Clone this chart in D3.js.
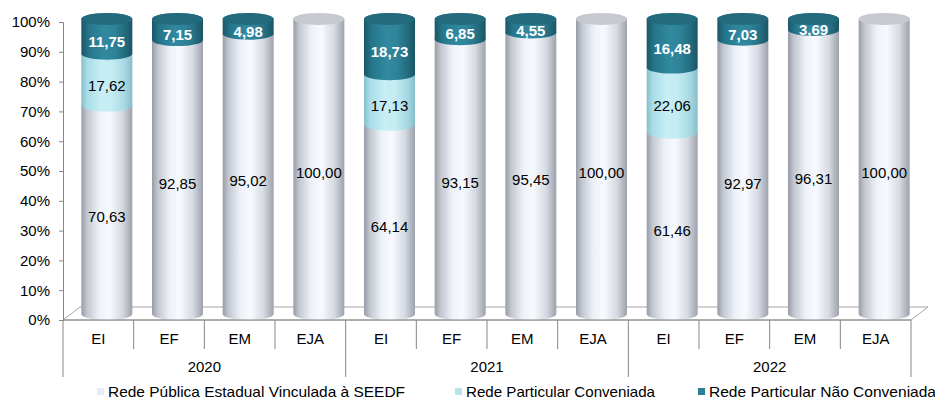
<!DOCTYPE html>
<html>
<head>
<meta charset="utf-8">
<script src="https://cdn.jsdelivr.net/npm/d3@7"></script>
<style>
  body { margin: 0; background: #fff; }
  text { font-family: "Liberation Sans", Arial, sans-serif; }
</style>
</head>
<body>
<div id="chart"></div>
<script>
var years = ["2020", "2021", "2022"];
var etapas = ["EI", "EF", "EM", "EJA"];
var publica = [70.63, 92.85, 95.02, 100.00, 64.14, 93.15, 95.45, 100.00, 61.46, 92.97, 96.31, 100.00];
var conveniada = [17.62, 0, 0, 0, 17.13, 0, 0, 0, 22.06, 0, 0, 0];
var naoConveniada = [11.75, 7.15, 4.98, 0, 18.73, 6.85, 4.55, 0, 16.48, 7.03, 3.69, 0];
var seriesNames = ["Rede Pública Estadual Vinculada à SEEDF", "Rede Particular Conveniada", "Rede Particular Não Conveniada"];
var yTicks = [0, 10, 20, 30, 40, 50, 60, 70, 80, 90, 100];

var width = 935, height = 401;
var keys = ["pub", "conv", "nconv"];

var rows = [];
years.forEach(function (yr, i) {
  etapas.forEach(function (et, j) {
    var k = i * 4 + j;
    rows.push({ id: k, year: yr, etapa: et, pub: publica[k], conv: conveniada[k], nconv: naoConveniada[k] });
  });
});

var stacked = d3.stack().keys(keys)(rows);

var svg = d3.select("#chart").append("svg")
  .attr("width", width)
  .attr("height", height);

var x = d3.scaleBand().domain(d3.range(rows.length)).range([63, 911]).padding(0);
var y = d3.scaleLinear().domain([0, 100]).range([320, 22]);
var yCyl = d3.scaleLinear().domain([0, 100]).range([314, 19]);

var depthX = 17, depthY = -13;
var rx = 25.5, ry = 6, shift = 8.5;

// gradients
var defs = svg.append("defs");
var grads = {
  pub: [["0%", "#979ca7"], ["12%", "#c3c8d1"], ["35%", "#eef2f8"], ["55%", "#f7fafd"], ["80%", "#d6dae2"], ["100%", "#9da1ab"]],
  conv: [["0%", "#86bfcc"], ["12%", "#a9dde8"], ["40%", "#c9eef5"], ["60%", "#c4ecf3"], ["85%", "#a8d9e3"], ["100%", "#86bdc9"]],
  nconv: [["0%", "#1b5768"], ["15%", "#26768a"], ["45%", "#3189a0"], ["65%", "#2f8399"], ["85%", "#236d80"], ["100%", "#1a5464"]]
};
Object.keys(grads).forEach(function (k) {
  var g = defs.append("linearGradient").attr("id", "g-" + k)
    .attr("x1", "0%").attr("x2", "100%").attr("y1", "0%").attr("y2", "0%");
  grads[k].forEach(function (s) { g.append("stop").attr("offset", s[0]).attr("stop-color", s[1]); });
});
var topColor = { pub: "#c6c9d0", conv: "#b3e1ea", nconv: "#236a7c" };
var legendColor = { pub: "#e6edf5", conv: "#b7e3ec", nconv: "#2c7f94" };

// floor
var x0 = x.range()[0], x1 = x.range()[1];
svg.append("path")
  .attr("d", "M" + x0 + "," + y(0) + " L" + (x0 + depthX) + "," + (y(0) + depthY) +
    " L" + (x1 + depthX) + "," + (y(0) + depthY) + " L" + x1 + "," + y(0) + " Z")
  .attr("fill", "#fff")
  .attr("stroke", "#a6a6a6")
  .attr("stroke-width", 1);

// y axis
var yAxis = d3.axisLeft(y).tickValues(yTicks).tickSize(4).tickPadding(9)
  .tickFormat(function (d) { return d + "%"; });
var ga = svg.append("g").attr("transform", "translate(" + x0 + ",0)").call(yAxis);
ga.select(".domain").attr("stroke", "#868686");
ga.selectAll(".tick line").attr("stroke", "#868686");
ga.selectAll(".tick text").attr("fill", "#000").style("font-size", "15px")
  .style("font-family", "'Liberation Sans', Arial, sans-serif");

// cylinders
function segPath(cx, yTop, yBot) {
  var l = cx - rx, r = cx + rx;
  return "M" + l + "," + yTop + " L" + l + "," + yBot +
    " A" + rx + "," + ry + " 0 0 0 " + r + "," + yBot +
    " L" + r + "," + yTop +
    " A" + rx + "," + ry + " 0 0 0 " + l + "," + yTop + " Z";
}

stacked.forEach(function (layer) {
  var key = layer.key;
  svg.append("g").selectAll("path")
    .data(layer.filter(function (d) { return d[1] - d[0] > 0; }))
    .enter().append("path")
    .attr("d", function (d) {
      var cx = x(d.data.id) + x.bandwidth() / 2 + shift;
      return segPath(cx, yCyl(d[1]), yCyl(d[0]));
    })
    .attr("fill", "url(#g-" + key + ")");
});

// top caps
rows.forEach(function (r) {
  var topKey = r.nconv > 0 ? "nconv" : (r.conv > 0 ? "conv" : "pub");
  var total = r.pub + r.conv + r.nconv;
  svg.append("ellipse")
    .attr("cx", x(r.id) + x.bandwidth() / 2 + shift)
    .attr("cy", yCyl(total))
    .attr("rx", rx)
    .attr("ry", ry)
    .attr("fill", topColor[topKey]);
});

// data labels
stacked.forEach(function (layer) {
  var key = layer.key;
  svg.append("g").selectAll("text")
    .data(layer.filter(function (d) { return d[1] - d[0] > 0; }))
    .enter().append("text")
    .attr("x", function (d) { return x(d.data.id) + x.bandwidth() / 2 + shift; })
    .attr("y", function (d) { return y((d[0] + d[1]) / 2) + 2; })
    .attr("dy", "0.35em")
    .attr("text-anchor", "middle")
    .style("font-size", "15px")
    .style("font-weight", key === "nconv" ? "bold" : "normal")
    .attr("fill", key === "nconv" ? "#fff" : "#000")
    .text(function (d) { return d3.format(".2f")(d[1] - d[0]).replace(".", ","); });
});

// category axis
var axisColor = "#868686";
svg.append("line")
  .attr("x1", x0).attr("x2", x1).attr("y1", y(0)).attr("y2", y(0))
  .attr("stroke", axisColor);
rows.forEach(function (r, i) {
  var isGroup = i % 4 === 0;
  svg.append("line")
    .attr("x1", x(r.id)).attr("x2", x(r.id))
    .attr("y1", y(0)).attr("y2", isGroup ? 377 : 349)
    .attr("stroke", axisColor);
  svg.append("text")
    .attr("x", x(r.id) + x.bandwidth() / 2)
    .attr("y", 339)
    .attr("dy", "0.35em")
    .attr("text-anchor", "middle")
    .style("font-size", "15px")
    .text(r.etapa);
});
svg.append("line")
  .attr("x1", x1).attr("x2", x1).attr("y1", y(0)).attr("y2", 377)
  .attr("stroke", axisColor);
years.forEach(function (yr, i) {
  var a = x(i * 4), b = x(i * 4 + 3) + x.bandwidth();
  svg.append("text")
    .attr("x", (a + b) / 2)
    .attr("y", 367)
    .attr("dy", "0.35em")
    .attr("text-anchor", "middle")
    .style("font-size", "15px")
    .text(yr);
});

// legend
var legendX = [97, 455, 698];
var legendW = [297, 189, 227];
keys.forEach(function (k, i) {
  svg.append("rect")
    .attr("x", legendX[i]).attr("y", 388)
    .attr("width", 7).attr("height", 7)
    .attr("fill", legendColor[k]);
  svg.append("text")
    .attr("x", legendX[i] + 11)
    .attr("y", 397)
    .attr("textLength", legendW[i])
    .attr("lengthAdjust", "spacingAndGlyphs")
    .style("font-size", "15px")
    .text(seriesNames[i]);
});
</script>
</body>
</html>
